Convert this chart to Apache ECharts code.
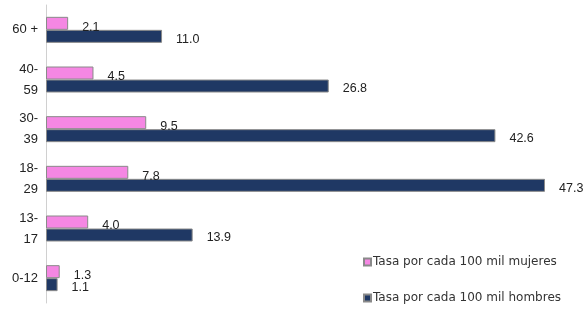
<!DOCTYPE html>
<html><head><meta charset="utf-8">
<script src="https://cdn.jsdelivr.net/npm/echarts@6/dist/echarts.min.js"></script>
<style>html,body{margin:0;padding:0;background:#fff}#c{width:586px;height:312px}</style>
</head><body><div id="c"></div>
<script>
const categories = ['60 +', '40-\n59', '30-\n39', '18-\n29', '13-\n17', '0-12'];
const mujeres = [2.1, 4.5, 9.5, 7.8, 4.0, 1.3];
const hombres = [11.0, 26.8, 42.6, 47.3, 13.9, 1.1];
const seriesNames = ['Tasa por cada 100 mil mujeres', 'Tasa por cada 100 mil hombres'];

const chart = echarts.init(document.getElementById('c'));
const labelFont = {fontFamily: 'Liberation Sans Narrow, Liberation Sans', fontSize: 12.5, color: '#222'};
chart.setOption({
  animation: false,
  grid: {left: 46, right: 12.5, top: 5, bottom: 9},
  xAxis: {type: 'value', min: 0, max: 50, show: false},
  yAxis: {
    type: 'category', data: categories, inverse: true,
    axisLine: {lineStyle: {color: '#d0d0d0'}}, axisTick: {show: false},
    axisLabel: {fontFamily: 'Liberation Sans', fontSize: 13, color: '#222', margin: 8, lineHeight: 21}
  },
  legend: {
    orient: 'vertical', left: 358, top: 251, itemGap: 24, itemWidth: 7, itemHeight: 7,
    icon: 'rect',
    textStyle: {fontFamily: 'DejaVu Sans', fontSize: 12, color: '#333', padding: [0,0,0,-3]},
    data: seriesNames
  },
  series: [
    {name: seriesNames[0], type: 'bar', data: mujeres, barWidth: 13, barGap: '0%',
     itemStyle: {color: '#F587E3', borderColor: '#8a8a8a', borderWidth: 1},
     label: {show: true, position: 'right', distance: 14, offset: [0, 4], ...labelFont, formatter: p => p.value.toFixed(1)}},
    {name: seriesNames[1], type: 'bar', data: hombres, barWidth: 13,
     itemStyle: {color: '#1F3864', borderColor: '#8a8a8a', borderWidth: 1},
     label: {show: true, position: 'right', distance: 14, offset: [0, 3], ...labelFont, formatter: p => p.value.toFixed(1)}}
  ]
});
</script></body></html>
